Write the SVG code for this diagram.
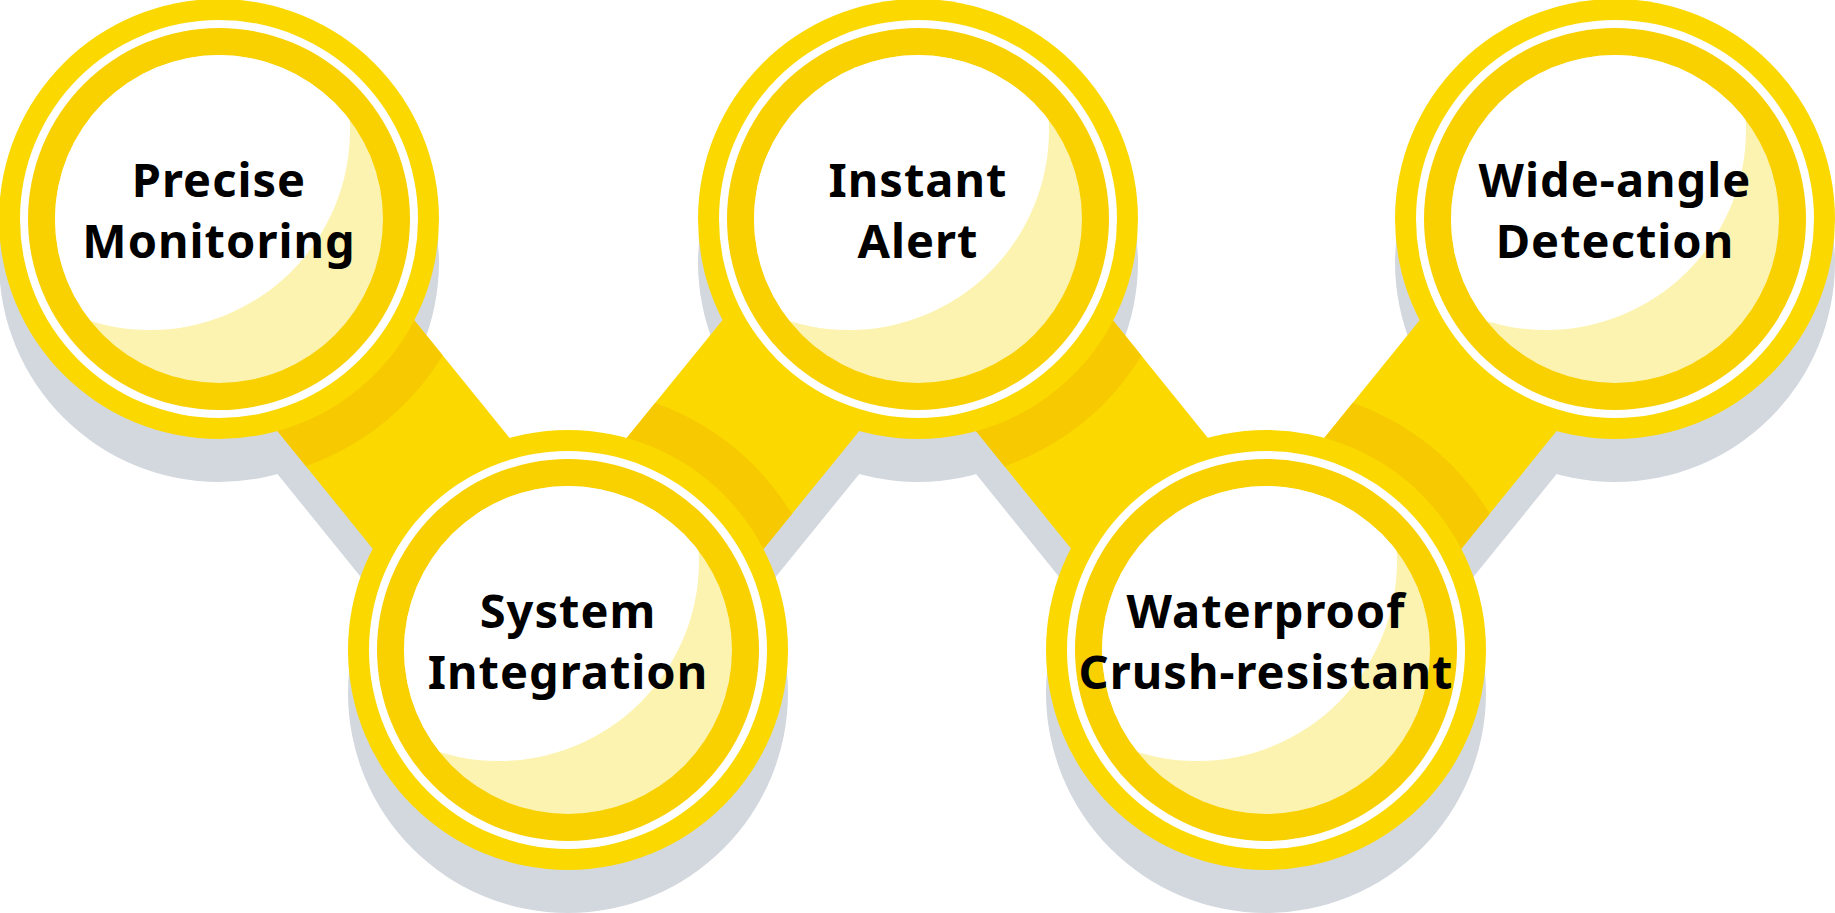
<svg xmlns="http://www.w3.org/2000/svg" xmlns:xlink="http://www.w3.org/1999/xlink" width="1835" height="913" viewBox="0 0 1835 913">
<style>
.y{fill:#FBD800}.d{fill:#F7C900}.ring{fill:#F9D000}.hl{fill:#FDF3B0}.w{fill:#fff}.sh{fill:#D3D8DE}
text{font-family:"Noto Sans","DejaVu Sans",sans-serif;font-weight:bold;font-size:47px;letter-spacing:1px;fill:#000;text-anchor:middle}
</style>
<defs>
<clipPath id="inner"><circle r="164"/></clipPath>
<g id="lens">
<circle r="220" class="y"/>
<circle r="199" class="w"/>
<circle r="191" class="ring"/>
<circle r="164" class="hl"/>
<circle cx="-69" cy="-89" r="200" class="w" clip-path="url(#inner)"/>
</g>
<polygon id="h1" points="287.4,163.6 150.6,274.4 499.6,705.4 636.4,594.6"/>
<polygon id="h2" points="636.4,705.5 499.6,594.5 849.6,163.5 986.4,274.5"/>
<polygon id="h3" points="986.4,163.6 849.6,274.4 1197.6,705.4 1334.4,594.6"/>
<polygon id="h4" points="1334.4,705.5 1197.6,594.5 1546.6,163.5 1683.4,274.5"/>
<clipPath id="c1"><use xlink:href="#h1"/></clipPath>
<clipPath id="c2"><use xlink:href="#h2"/></clipPath>
<clipPath id="c3"><use xlink:href="#h3"/></clipPath>
<clipPath id="c4"><use xlink:href="#h4"/></clipPath>
</defs>
<g id="shadow" class="sh" transform="translate(0,43)">
<use xlink:href="#h1"/><use xlink:href="#h2"/><use xlink:href="#h3"/><use xlink:href="#h4"/>
<circle cx="219" cy="219" r="220"/><circle cx="568" cy="650" r="220"/><circle cx="918" cy="219" r="220"/><circle cx="1266" cy="650" r="220"/><circle cx="1615" cy="219" r="220"/>
</g>
<g id="connectors">
<use xlink:href="#h1" class="y"/><circle cx="219" cy="219" r="262" class="d" clip-path="url(#c1)"/>
<use xlink:href="#h2" class="y"/><circle cx="568" cy="650" r="262" class="d" clip-path="url(#c2)"/>
<use xlink:href="#h3" class="y"/><circle cx="918" cy="219" r="262" class="d" clip-path="url(#c3)"/>
<use xlink:href="#h4" class="y"/><circle cx="1266" cy="650" r="262" class="d" clip-path="url(#c4)"/>
</g>
<g id="n1" transform="translate(219,219)"><use xlink:href="#lens"/><text y="-22">Precise</text><text y="39">Monitoring</text></g>
<g id="n2" transform="translate(568,650)"><use xlink:href="#lens"/><text y="-22">System</text><text y="39">Integration</text></g>
<g id="n3" transform="translate(918,219)"><use xlink:href="#lens"/><text y="-22">Instant</text><text y="39">Alert</text></g>
<g id="n4" transform="translate(1266,650)"><use xlink:href="#lens"/><text y="-22">Waterproof</text><text y="39">Crush-resistant</text></g>
<g id="n5" transform="translate(1615,219)"><use xlink:href="#lens"/><text y="-22">Wide-angle</text><text y="39">Detection</text></g>
</svg>
